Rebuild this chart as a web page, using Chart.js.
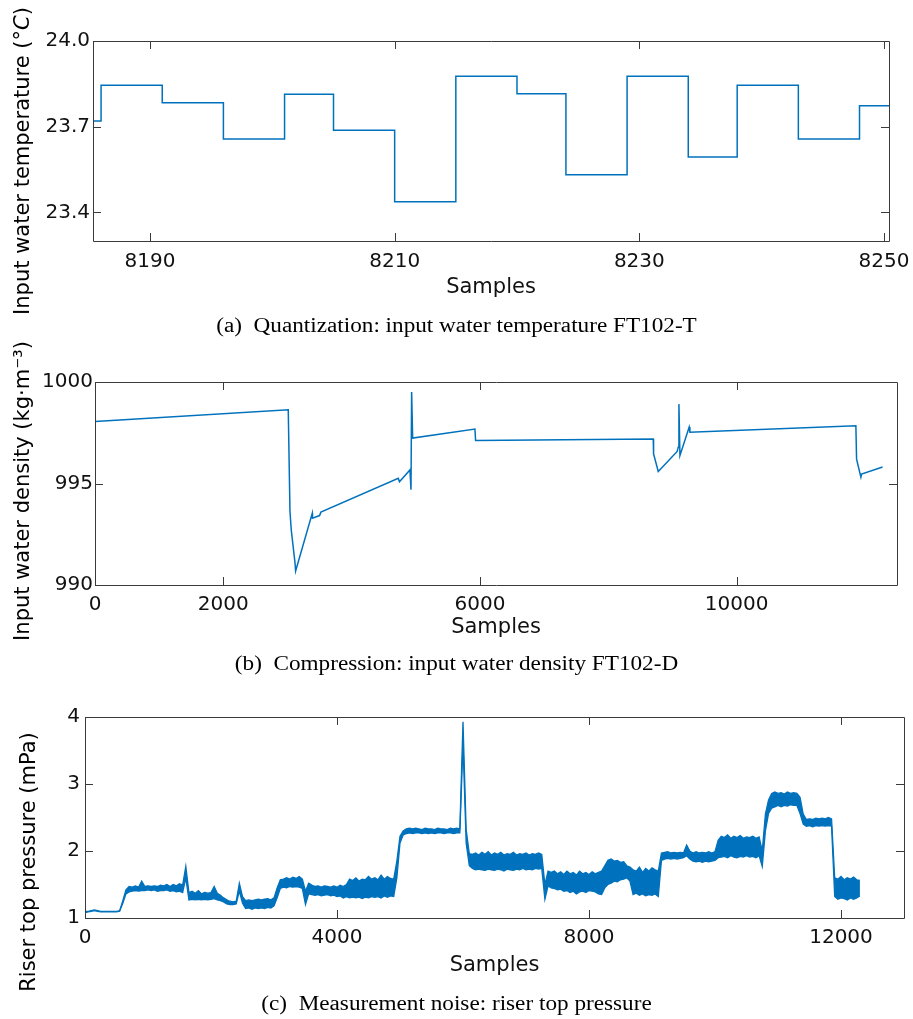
<!DOCTYPE html>
<html lang="en">
<head>
<meta charset="UTF-8">
<title>FT102 signals: quantization, compression, noise</title>
<script src="https://cdn.jsdelivr.net/npm/chart.js"></script>
<style>
  body {
    margin: 0;
    background: #fff;
    width: 913px;
    height: 1019px;
    position: relative;
    overflow: hidden;
    font-family: "DejaVu Sans", sans-serif;
  }

  canvas {
    position: absolute;
    left: 0;
  }

  .ylabel {
    position: absolute;
    white-space: nowrap;
    font-size: 21px;
    line-height: 24px;
    color: #000;
    transform: translate(-50%, -50%) rotate(-90deg);
  }

  .caption {
    position: absolute;
    left: 0;
    width: 913px;
    text-align: center;
    font-family: "Liberation Serif", serif;
    font-size: 20px;
    line-height: 24px;
    color: #000;
    transform: scaleX(1.16);
  }
</style>
</head>

<body>
  <canvas id="chartA" width="913" height="300" style="top:0px"></canvas>
  <canvas id="chartB" width="913" height="320" style="top:330px"></canvas>
  <canvas id="chartC" width="913" height="300" style="top:680px"></canvas>

  <div class="ylabel" style="left:22px; top:161px">Input water temperature (°<i>C</i>)</div>
  <div class="ylabel" style="left:22px; top:491px">Input water density (kg·m⁻³)</div>
  <div class="ylabel" style="left:28px; top:862px">Riser top pressure (mPa)</div>

  <div class="caption" style="top:313px">(a)&nbsp; Quantization: input water temperature FT102-T</div>
  <div class="caption" style="top:651px">(b)&nbsp; Compression: input water density FT102-D</div>
  <div class="caption" style="top:991px">(c)&nbsp; Measurement noise: riser top pressure</div>

  <script>
    // (a) quantized temperature, value holds from each sample until the next one
    const tempSamples = [8185, 8186, 8191, 8196, 8201, 8205, 8210, 8215, 8220, 8224, 8229, 8234, 8238, 8243, 8248, 8251];
    const tempValues = [23.72, 23.845, 23.784, 23.657, 23.814, 23.688, 23.437, 23.877, 23.815, 23.532, 23.877, 23.594, 23.845, 23.657, 23.773, 23.773];
    const tempXTicks = [8190, 8210, 8230, 8250];
    const tempYTicks = [23.4, 23.7, 24.0];

    // (b) compressed density
    const densSamples = [0, 3012, 3039, 3059, 3117, 3127, 3387, 3390, 3500, 3521, 4727, 4745, 4909, 4925, 4935, 4951,
      5922, 5932, 8701, 8706, 8779, 9074, 9090, 9101, 9117, 9261, 9272, 11859, 11870, 11937, 11948, 12275];
    const densValues = [998.06, 998.63, 993.62, 992.71, 991.1, 990.69, 993.54, 993.29, 993.42, 993.59, 995.26, 995.09, 995.67, 994.69, 999.51, 997.24,
      997.68, 997.12, 997.19, 996.46, 995.59, 996.58, 996.79, 998.91, 996.38, 997.78, 997.53, 997.84, 996.2, 995.31, 995.47, 995.81];
    const densXTicks = [0, 2000, 6000, 10000];
    const densYTicks = [990, 995, 1000];

    // (c) noisy riser top pressure: top and bottom of the noise band, one reading every 50 samples
    const pressStep = 50;
    const pressUpper = [
      1.10, 1.10, 1.11, 1.12, 1.11, 1.10, 1.10, 1.10, 1.10, 1.10, 1.10, 1.11, 1.26, 1.42, 1.47, 1.46, 1.48, 1.46, 1.55, 1.47,
      1.48, 1.47, 1.48, 1.47, 1.49, 1.48, 1.50, 1.47, 1.50, 1.48, 1.51, 1.49, 1.77, 1.38, 1.40, 1.37, 1.41, 1.36, 1.38, 1.37,
      1.38, 1.47, 1.37, 1.34, 1.30, 1.27, 1.25, 1.24, 1.25, 1.52, 1.32, 1.26, 1.27, 1.26, 1.27, 1.28, 1.27, 1.28, 1.29, 1.27,
      1.30, 1.45, 1.57, 1.58, 1.60, 1.58, 1.61, 1.59, 1.62, 1.58, 1.40, 1.52, 1.49, 1.47, 1.48, 1.46, 1.48, 1.47, 1.46, 1.48,
      1.46, 1.49, 1.47, 1.50, 1.58, 1.56, 1.60, 1.55, 1.58, 1.57, 1.62, 1.58, 1.60, 1.57, 1.64, 1.58, 1.62, 1.59, 1.58, 1.85,
      2.22, 2.30, 2.33, 2.34, 2.33, 2.34, 2.33, 2.32, 2.34, 2.33, 2.33, 2.32, 2.34, 2.33, 2.33, 2.32, 2.34, 2.33, 2.34, 2.33,
      3.93, 2.32, 1.96, 1.95, 1.97, 1.94, 1.98, 1.95, 1.99, 1.94, 1.97, 1.95, 1.98, 1.94, 1.96, 1.95, 1.98, 1.94, 1.96, 1.95,
      1.97, 1.94, 1.96, 1.95, 1.97, 1.95, 1.50, 1.70, 1.68, 1.70, 1.66, 1.69, 1.65, 1.70, 1.66, 1.68, 1.64, 1.70, 1.66, 1.68,
      1.65, 1.69, 1.66, 1.68, 1.70, 1.78, 1.86, 1.88, 1.85, 1.86, 1.83, 1.84, 1.78, 1.76, 1.72, 1.70, 1.76, 1.68, 1.74, 1.70,
      1.75, 1.72, 1.70, 1.97, 1.98, 1.99, 1.97, 1.98, 1.97, 1.98, 1.97, 2.09, 2.00, 1.97, 1.99, 1.97, 1.98, 1.97, 1.99, 1.97,
      1.99, 2.16, 2.22, 2.20, 2.24, 2.19, 2.22, 2.20, 2.23, 2.19, 2.21, 2.20, 2.22, 2.19, 2.21, 2.00, 2.55, 2.76, 2.86, 2.88,
      2.86, 2.87, 2.85, 2.88, 2.86, 2.87, 2.86, 2.80, 2.55, 2.47, 2.48, 2.47, 2.49, 2.48, 2.49, 2.48, 2.50, 2.48, 1.60, 1.58,
      1.62, 1.57, 1.60, 1.58, 1.61, 1.57, 1.56
    ];
    const pressLower = [
      1.08, 1.09, 1.10, 1.11, 1.10, 1.09, 1.09, 1.09, 1.09, 1.09, 1.09, 1.10, 1.22, 1.36, 1.39, 1.40, 1.41, 1.40, 1.41, 1.41,
      1.42, 1.41, 1.42, 1.40, 1.41, 1.41, 1.42, 1.40, 1.41, 1.39, 1.40, 1.38, 1.60, 1.27, 1.28, 1.27, 1.28, 1.27, 1.28, 1.27,
      1.28, 1.29, 1.27, 1.26, 1.24, 1.21, 1.20, 1.20, 1.21, 1.40, 1.22, 1.14, 1.15, 1.13, 1.15, 1.14, 1.15, 1.14, 1.16, 1.15,
      1.18, 1.30, 1.44, 1.46, 1.45, 1.47, 1.46, 1.47, 1.46, 1.44, 1.20, 1.36, 1.35, 1.34, 1.35, 1.33, 1.34, 1.35, 1.33, 1.34,
      1.32, 1.33, 1.30, 1.32, 1.30, 1.31, 1.30, 1.31, 1.29, 1.31, 1.30, 1.32, 1.31, 1.32, 1.30, 1.33, 1.31, 1.33, 1.32, 1.60,
      2.12, 2.24, 2.26, 2.27, 2.26, 2.27, 2.27, 2.26, 2.27, 2.26, 2.27, 2.26, 2.27, 2.27, 2.26, 2.27, 2.27, 2.26, 2.27, 2.27,
      3.60, 2.12, 1.78, 1.74, 1.72, 1.73, 1.72, 1.71, 1.73, 1.72, 1.71, 1.73, 1.72, 1.70, 1.73, 1.72, 1.71, 1.73, 1.72, 1.74,
      1.72, 1.73, 1.72, 1.74, 1.73, 1.74, 1.28, 1.48, 1.45, 1.44, 1.42, 1.43, 1.40, 1.41, 1.38, 1.40, 1.36, 1.39, 1.40, 1.38,
      1.41, 1.40, 1.39, 1.36, 1.35, 1.45, 1.50, 1.52, 1.55, 1.54, 1.57, 1.58, 1.60, 1.55, 1.35, 1.37, 1.34, 1.36, 1.33, 1.35,
      1.34, 1.36, 1.32, 1.86, 1.88, 1.89, 1.88, 1.89, 1.88, 1.89, 1.90, 1.93, 1.88, 1.85, 1.84, 1.85, 1.83, 1.85, 1.84, 1.85,
      1.86, 1.90, 1.91, 1.92, 1.90, 1.93, 1.91, 1.90, 1.92, 1.91, 1.93, 1.91, 1.92, 1.90, 1.93, 1.77, 2.30, 2.56, 2.64, 2.66,
      2.68, 2.66, 2.68, 2.67, 2.69, 2.68, 2.68, 2.56, 2.40, 2.37, 2.38, 2.36, 2.38, 2.37, 2.38, 2.37, 2.38, 2.37, 1.32, 1.28,
      1.30, 1.29, 1.27, 1.30, 1.28, 1.30, 1.33
    ];
    const pressXTicks = [0, 4000, 8000, 12000];
    const pressYTicks = [1, 2, 3, 4];

    const lineColor = '#0072BD';
    const axisColor = '#3a3a3a';
    const textColor = '#111';

    // box round the plot with MATLAB style inward ticks on all four sides
    const boxPlugin = {
      id: 'boxTicks',
      afterDatasetsDraw(chart) {
        const { ctx, chartArea: a, scales: { x, y } } = chart;
        const len = 8;
        ctx.save();
        ctx.strokeStyle = axisColor;
        ctx.lineWidth = 1;
        ctx.beginPath();
        ctx.rect(Math.round(a.left) + 0.5, Math.round(a.top) + 0.5, Math.round(a.width), Math.round(a.height));
        x.ticks.forEach(t => {
          const px = Math.round(x.getPixelForValue(t.value)) + 0.5;
          ctx.moveTo(px, a.bottom); ctx.lineTo(px, a.bottom - len);
          ctx.moveTo(px, a.top); ctx.lineTo(px, a.top + len);
        });
        y.ticks.forEach(t => {
          const py = Math.round(y.getPixelForValue(t.value)) + 0.5;
          ctx.moveTo(a.left, py); ctx.lineTo(a.left + len, py);
          ctx.moveTo(a.right, py); ctx.lineTo(a.right - len, py);
        });
        ctx.stroke();
        ctx.restore();
      }
    };

    function makeChart(id, cfg) {
      const ctx = document.getElementById(id).getContext('2d');
      return new Chart(ctx, {
        type: 'line',
        data: { datasets: cfg.datasets },
        options: {
          responsive: false,
          animation: false,
          layout: { padding: cfg.padding },
          elements: {
            point: { radius: 0 },
            line: { borderColor: lineColor, tension: 0 }
          },
          plugins: {
            legend: { display: false },
            tooltip: { enabled: false }
          },
          scales: {
            x: {
              type: 'linear',
              min: cfg.xMin,
              max: cfg.xMax,
              afterBuildTicks: s => { s.ticks = cfg.xTicks.map(v => ({ value: v })); },
              afterFit: s => { s.height = cfg.xHeight; s.paddingLeft = 0; s.paddingRight = 0; },
              grid: { display: false, drawTicks: false },
              border: { display: false },
              ticks: {
                autoSkip: false,
                maxRotation: 0,
                padding: cfg.xPad,
                color: textColor,
                font: { family: 'DejaVu Sans', size: 20 },
                callback: v => String(v)
              },
              title: {
                display: true,
                text: 'Samples',
                color: textColor,
                padding: 0,
                font: { family: 'DejaVu Sans', size: 21 }
              }
            },
            y: {
              min: cfg.yMin,
              max: cfg.yMax,
              afterBuildTicks: s => { s.ticks = cfg.yTicks.map(v => ({ value: v })); },
              afterFit: s => { s.width = cfg.yWidth; s.paddingTop = 0; s.paddingBottom = 0; },
              grid: { display: false, drawTicks: false },
              border: { display: false },
              ticks: {
                autoSkip: false,
                padding: cfg.yPad,
                color: textColor,
                font: { family: 'DejaVu Sans', size: 20 },
                callback: cfg.yFormat
              }
            }
          }
        },
        plugins: [boxPlugin]
      });
    }

    makeChart('chartA', {
      datasets: [{
        data: tempSamples.map((s, i) => ({ x: s, y: tempValues[i] })),
        borderColor: lineColor,
        borderWidth: 1.5,
        stepped: true
      }],
      padding: { left: 0, top: 41, right: 24, bottom: 0 },
      xMin: 8185.34, xMax: 8250.41, xTicks: tempXTicks, xHeight: 59, xPad: 9,
      yMin: 23.3, yMax: 24.0, yTicks: tempYTicks, yWidth: 93, yPad: 3,
      yFormat: v => v.toFixed(1)
    });

    makeChart('chartB', {
      datasets: [{
        data: densSamples.map((s, i) => ({ x: s, y: densValues[i] })),
        borderColor: lineColor,
        borderWidth: 1.5
      }],
      padding: { left: 0, top: 52, right: 16, bottom: 10 },
      xMin: 0, xMax: 12500, xTicks: densXTicks, xHeight: 55, xPad: 8,
      yMin: 990, yMax: 1000, yTicks: densYTicks, yWidth: 95, yPad: 2,
      yFormat: v => String(v)
    });

    // the noise band is filled between its upper and lower readings
    makeChart('chartC', {
      datasets: [{
        data: pressUpper.map((v, i) => ({ x: i * pressStep, y: v })),
        borderColor: lineColor,
        borderWidth: 1.3,
        fill: false
      }, {
        data: pressLower.map((v, i) => ({ x: i * pressStep, y: v })),
        borderColor: lineColor,
        borderWidth: 1.3,
        backgroundColor: lineColor,
        fill: '-1'
      }],
      padding: { left: 0, top: 37, right: 9, bottom: 2 },
      xMin: 0, xMax: 13000, xTicks: pressXTicks, xHeight: 60, xPad: 8,
      yMin: 1, yMax: 4, yTicks: pressYTicks, yWidth: 85, yPad: 5,
      yFormat: v => String(v)
    });
  </script>
</body>

</html>
